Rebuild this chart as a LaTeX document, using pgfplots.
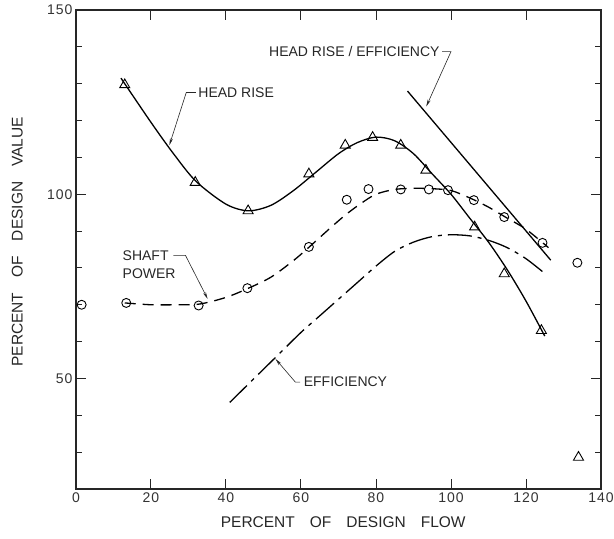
\documentclass[border=0pt]{standalone}
\usepackage{pgfplots}
\pgfplotsset{compat=1.18}
\usepackage{fontspec}
\setmainfont{Liberation Sans}
\newfontfamily\tickfont[LetterSpace=7]{Liberation Sans}
\usetikzlibrary{arrows.meta}

\begin{document}
\begin{tikzpicture}
\begin{axis}[
  scale only axis, width=525pt, height=479pt,
  xmin=0, xmax=140, ymin=20, ymax=150,
  xtick={0,20,...,140},
  ytick={50,100,150},
  minor ytick={30,40,60,70,80,90,110,120,130,140},
  tick align=inside,
  major tick length=10pt, minor tick length=6pt,
  axis line style={line width=1.1pt, black!85},
  every tick/.style={black!85, line width=1pt},
  tick label style={font=\tickfont\fontsize{14}{16}\selectfont, black!80},
  /pgf/number format/assume math mode=true,
  xlabel={PERCENT\hspace{15pt}OF\hspace{15pt}DESIGN\hspace{15pt}FLOW},
  ylabel={PERCENT\hspace{15pt}OF\hspace{15pt}DESIGN\hspace{15pt}VALUE},
  label style={font=\fontsize{15.5}{17}\selectfont, black!85},
  xlabel style={at={(axis description cs:0.509,-0.069)}, anchor=center},
  ylabel style={at={(axis description cs:-0.112,0.516)}, anchor=center, rotate=0},
  clip=false,
]
% Head rise curve
\addplot[black, line width=1.3pt, smooth] coordinates {
(12,131.5) (20,119.5) (26,111) (32,103.5) (40,97.3) (46,95.5) (52,97)
(58,101) (64,106) (70,111) (75,114) (80,115.5) (85,114.5) (90,111)
(95,105.5) (100,100) (105,93.5) (110,87) (115,79.5) (120,71) (125,61.5)};
% Head rise points
\addplot[only marks, mark=triangle, mark size=5.8pt, mark options={line width=0.9pt, fill=white}] coordinates {
(13,129.7) (31.8,103.2) (45.9,95.5) (62.1,105.5) (71.8,113.3) (79.1,115.4)
(86.6,113.3) (93.3,106.5) (106.3,91.1) (114.2,78.4) (124.1,63.0) (134,28.6)};
% Shaft power curve
\addplot[black, line width=1.3pt, smooth, dash pattern=on 11pt off 7pt] coordinates {
(13,70.5) (20,70) (27,70) (33,70.2) (40,72) (46,74.5) (52,77.5) (58,82)
(62,85.5) (68,91) (72,94.5) (76,97.5) (80,100) (85,101.3) (90,101.6)
(95,101.5) (100,101) (105,99) (110,96.5) (115,93.5) (120,90.5) (126,85.5)};
% Shaft power points
\addplot[only marks, mark=o, mark size=4.5pt, mark options={line width=0.9pt, fill=white}] coordinates {
(1.5,70) (13.4,70.5) (32.7,69.8) (45.7,74.5) (62.1,85.7) (72.2,98.5) (78,101.4)
(86.6,101.3) (94.1,101.3) (99.2,101.1) (106.1,98.4) (114.2,93.8) (124.4,86.8) (133.7,81.4)};
% Efficiency curve
\addplot[black, line width=1.3pt, smooth, dash pattern=on 24pt off 6pt on 4pt off 6pt] coordinates {
(41,43.5) (45,47.5) (50,52.5) (55,57.5) (60,62.5) (65,67) (70,71.5) (75,76)
(80,80.5) (85,84.5) (90,87) (95,88.5) (100,89) (105,88.7) (110,87.5)
(115,85.5) (120,82.5) (125,78.5)};
% Head rise / efficiency line
\addplot[black, line width=1.3pt] coordinates {(88.4,128) (126.6,82.1)};

% Annotations
\tikzset{lead/.style={line width=0.6pt, black!85, -{Stealth[length=7pt,width=3pt]}},
         lbl/.style={font=\fontsize{14}{16}\selectfont, black!85, inner sep=0pt}}
\node[lbl, anchor=west] at (axis cs:32.6,127.6) {HEAD RISE};
\draw[lead] (axis cs:32,127.6) -- (axis cs:29.4,127.6) -- (axis cs:24.9,113.3);
\node[lbl, anchor=east] at (axis cs:97,138.7) {HEAD RISE / EFFICIENCY};
\draw[lead] (axis cs:97.6,138.7) -- (axis cs:100,138.7) -- (axis cs:93.4,123.8);
\node[lbl, anchor=west, align=left] at (axis cs:12.4,80.9) {SHAFT\\[2pt]POWER};
\draw[lead] (axis cs:26,83.4) -- (axis cs:29.2,83.4) -- (axis cs:35.1,71.6);
\node[lbl, anchor=west] at (axis cs:60.7,49) {EFFICIENCY};
\draw[lead] (axis cs:59.8,49) -- (axis cs:58.5,49) -- (axis cs:53.2,55.3);
\end{axis}
\pgfresetboundingbox
\useasboundingbox ([xshift=-76pt,yshift=-50pt]current axis.south west) rectangle ([xshift=13pt,yshift=10pt]current axis.north east);
\end{tikzpicture}
\end{document}
